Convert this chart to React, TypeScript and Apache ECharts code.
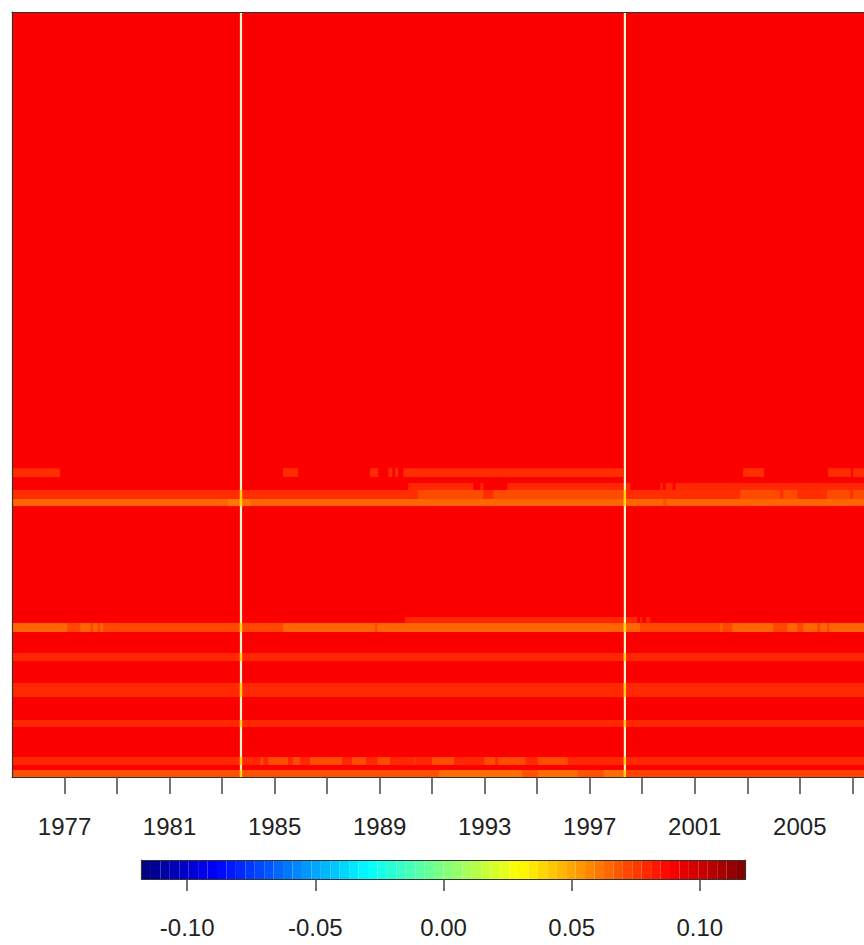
import React, { useEffect, useRef } from "react";
import * as echarts from "echarts";

// ---- data ----
const xStart = 1975;
const xEnd = 2009;
const nLevels = 109;
const baseValue = 0.089;

const tickYears = [1977, 1979, 1981, 1983, 1985, 1987, 1989, 1991, 1993, 1995, 1997, 1999, 2001, 2003, 2005, 2007];
const labelYears = [1977, 1981, 1985, 1989, 1993, 1997, 2001, 2005];

const colorTicks = [-0.1, -0.05, 0, 0.05, 0.1];
const colorMin = -0.1178;
const colorMax = 0.1178;
const colorSteps = 64;

// levels (rows) that differ from the base value
const bandLow = [0, 1.71, 7.12, 11.4, 16.53, 20.66, 21.99, 38.6, 39.6, 40.9, 42.75];
const bandHigh = [1.0, 2.85, 8.12, 13.4, 17.67, 21.99, 22.8, 39.6, 40.9, 41.9, 44.0];
const bandBase = [0.07, 0.079, 0.079, 0.079, 0.079, 0.065, 0.089, 0.065, 0.078, 0.089, 0.089];
const bandRuns: number[][][] = [
  [[1991.26, 1994.42, 0.063], [1995.02, 1996.54, 0.063], [1997.53, 1998.3, 0.063], [1998.3, 2009, 0.073]],
  [[1984.46, 1984.57, 0.071], [1984.76, 1985.51, 0.071], [1985.7, 1985.97, 0.071], [1986.35, 1987.57, 0.071], [1987.95, 1988.48, 0.071], [1988.91, 1989.4, 0.071], [1990.32, 1990.36, 0.071], [1991.0, 1991.83, 0.071], [1992.99, 1993.4, 0.071], [1993.5, 1994.56, 0.071], [1995.02, 1996.16, 0.071]],
  [],
  [],
  [],
  [[1977.1, 1977.6, 0.072], [1977.98, 1978.09, 0.072], [1978.25, 1978.36, 0.072], [1978.47, 1985.32, 0.072], [1988.83, 1988.91, 0.072], [1998.92, 2001.97, 0.072], [2002.05, 2002.43, 0.072], [2003.99, 2004.52, 0.072], [2004.9, 2005.13, 0.072], [2005.66, 2005.78, 0.072], [2006.04, 2006.12, 0.072]],
  [[1989.97, 1998.81, 0.079], [1998.92, 1999.0, 0.079], [1999.15, 1999.3, 0.079]],
  [[1983.23, 1984.07, 0.061], [1999.79, 1999.94, 0.07]],
  [[1990.47, 1992.95, 0.071], [1993.33, 1998.27, 0.071], [2002.73, 2004.25, 0.071], [2004.37, 2004.9, 0.071], [2006.04, 2006.92, 0.071], [2007.03, 2009, 0.071]],
  [[1990.09, 1992.57, 0.079], [1992.84, 1992.95, 0.079], [1993.86, 1998.55, 0.079], [1999.69, 1999.78, 0.079], [1999.89, 2000.16, 0.079], [2000.27, 2009, 0.079]],
  [[1975, 1976.83, 0.078], [1985.32, 1985.89, 0.078], [1988.64, 1988.94, 0.078], [1989.33, 1989.48, 0.078], [1989.59, 1989.71, 0.078], [1989.9, 1998.27, 0.078], [2002.84, 2003.64, 0.078], [2006.08, 2006.95, 0.078], [2007.03, 2009, 0.078]],
];

// missing (one-month) columns
const gapYears = [1983.72, 1998.34];
const gapWidth = 1 / 12;

const jet = ["#00007F", "#0000FF", "#007FFF", "#00FFFF", "#7FFF7F", "#FFFF00", "#FF7F00", "#FF0000", "#7F0000"];

const FONT = "'Liberation Sans', Arial, Helvetica, sans-serif";

function buildCells() {
  const items: number[][] = [[xStart, xEnd, 0, nLevels, baseValue]];
  bandLow.forEach((lo, i) => {
    const hi = bandHigh[i];
    items.push([xStart, xEnd, lo, hi, bandBase[i]]);
    bandRuns[i].forEach((r) => items.push([r[0], r[1], lo, hi, r[2]]));
  });
  return items;
}

function buildGaps() {
  const items: number[][] = [];
  gapYears.forEach((g) => {
    const x0 = g - gapWidth / 2;
    const x1 = g + gapWidth / 2;
    items.push([x0, x1, 0, nLevels, 0]);
    bandLow.forEach((lo, i) => {
      if (bandBase[i] < 0.085) items.push([x0, x1, lo, bandHigh[i], 1]);
    });
  });
  return items;
}

function buildColorbar() {
  const step = (colorMax - colorMin) / colorSteps;
  const items: number[][] = [];
  for (let i = 0; i < colorSteps; i++) {
    const v0 = colorMin + i * step;
    items.push([v0, v0 + step, 0, 1, v0 + step / 2]);
  }
  return items;
}

const rectRender = (params: any, api: any) => {
  const a = api.coord([api.value(0), api.value(3)]);
  const b = api.coord([api.value(1), api.value(2)]);
  return {
    type: "rect",
    shape: { x: a[0], y: a[1], width: b[0] - a[0], height: b[1] - a[1] },
    style: { fill: api.visual("color") },
  };
};

const gapRender = (params: any, api: any) => {
  const a = api.coord([api.value(0), api.value(3)]);
  const b = api.coord([api.value(1), api.value(2)]);
  return {
    type: "rect",
    shape: { x: a[0], y: a[1], width: b[0] - a[0], height: b[1] - a[1] },
    style: { fill: api.value(4) === 1 ? "#FFD400" : "#FFF6CC" },
  };
};

const lineOnly = (color: string) => ({
  show: true,
  onZero: false,
  lineStyle: { color, width: 1.2 },
});

export default function App() {
  const ref = useRef<HTMLDivElement>(null);
  useEffect(() => {
    if (!ref.current) return;
    const chart = echarts.init(ref.current, undefined, { renderer: "svg" });
    const pxPerYear = 26.26;
    chart.setOption({
      animation: false,
      backgroundColor: "#ffffff",
      grid: [
        { left: 12, top: 12, width: (xEnd - xStart) * pxPerYear, height: 765 },
        { left: 141.5, top: 860, width: 604, height: 19 },
      ],
      visualMap: {
        type: "continuous",
        show: false,
        min: colorMin,
        max: colorMax,
        dimension: 4,
        seriesIndex: [0, 2],
        inRange: { color: jet },
      },
      xAxis: [
        {
          type: "value",
          gridIndex: 0,
          min: xStart,
          max: xEnd,
          position: "bottom",
          z: 10,
          axisLine: lineOnly("#333"),
          axisTick: {
            show: true,
            customValues: tickYears,
            length: 17,
            lineStyle: { color: "#444", width: 1.5 },
          },
          axisLabel: {
            show: true,
            customValues: labelYears,
            margin: 37,
            fontSize: 24,
            color: "#222",
            fontFamily: FONT,
            formatter: (v: number) => String(Math.round(v)),
          },
          splitLine: { show: false },
        },
        {
          type: "value",
          gridIndex: 0,
          min: xStart,
          max: xEnd,
          position: "top",
          z: 10,
          axisLine: lineOnly("#333"),
          axisTick: { show: false },
          axisLabel: { show: false },
          splitLine: { show: false },
        },
        {
          type: "value",
          gridIndex: 1,
          min: colorMin,
          max: colorMax,
          position: "bottom",
          z: 10,
          axisLine: lineOnly("#333"),
          axisTick: {
            show: true,
            customValues: colorTicks,
            length: 12,
            lineStyle: { color: "#444", width: 1.5 },
          },
          axisLabel: {
            show: true,
            customValues: colorTicks,
            margin: 36,
            fontSize: 24,
            color: "#222",
            fontFamily: FONT,
            formatter: (v: number) => v.toFixed(2),
          },
          splitLine: { show: false },
        },
        {
          type: "value",
          gridIndex: 1,
          min: colorMin,
          max: colorMax,
          position: "top",
          z: 10,
          axisLine: lineOnly("#333"),
          axisTick: { show: false },
          axisLabel: { show: false },
          splitLine: { show: false },
        },
      ],
      yAxis: [
        {
          type: "value",
          gridIndex: 0,
          min: 0,
          max: nLevels,
          position: "left",
          z: 10,
          axisLine: lineOnly("#333"),
          axisTick: { show: false },
          axisLabel: { show: false },
          splitLine: { show: false },
        },
        {
          type: "value",
          gridIndex: 1,
          min: 0,
          max: 1,
          position: "left",
          z: 10,
          axisLine: lineOnly("#333"),
          axisTick: { show: false },
          axisLabel: { show: false },
          splitLine: { show: false },
        },
        {
          type: "value",
          gridIndex: 1,
          min: 0,
          max: 1,
          position: "right",
          z: 10,
          axisLine: lineOnly("#333"),
          axisTick: { show: false },
          axisLabel: { show: false },
          splitLine: { show: false },
        },
      ],
      series: [
        {
          type: "custom",
          name: "cells",
          xAxisIndex: 0,
          yAxisIndex: 0,
          silent: true,
          clip: true,
          encode: { x: [0, 1], y: [2, 3] },
          renderItem: rectRender,
          data: buildCells(),
        },
        {
          type: "custom",
          name: "gaps",
          xAxisIndex: 0,
          yAxisIndex: 0,
          silent: true,
          clip: true,
          encode: { x: [0, 1], y: [2, 3] },
          renderItem: gapRender,
          data: buildGaps(),
        },
        {
          type: "custom",
          name: "colorbar",
          xAxisIndex: 2,
          yAxisIndex: 1,
          silent: true,
          encode: { x: [0, 1], y: [2, 3] },
          renderItem: rectRender,
          data: buildColorbar(),
        },
      ],
    });
    return () => chart.dispose();
  }, []);

  return (
    <div
      style={{
        position: "fixed",
        left: 0,
        top: 0,
        width: 864,
        height: 945,
        overflow: "hidden",
        background: "#ffffff",
      }}
    >
      <div ref={ref} style={{ width: 920, height: 945 }} />
    </div>
  );
}
